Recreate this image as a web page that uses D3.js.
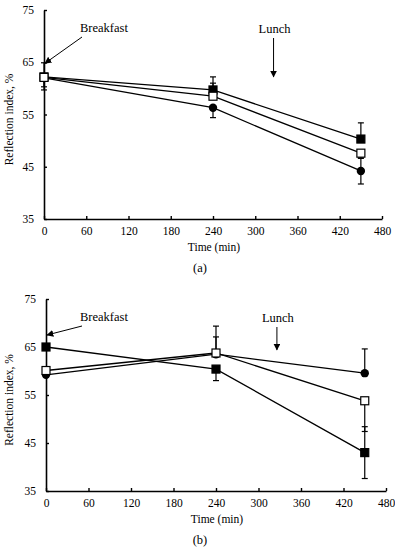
<!DOCTYPE html>
<html>
<head>
<meta charset="utf-8">
<script src="https://cdn.jsdelivr.net/npm/d3@7"></script>
<style>
  body { margin: 0; background: #fff; }
</style>
</head>
<body>
<svg id="chart" width="395" height="550"></svg>
<script>
// data
var times = [0, 240, 450];
var xTicks = [0, 60, 120, 180, 240, 300, 360, 420, 480];
var yTicks = [35, 45, 55, 65, 75];

// panel (a)
var aSquare = [62.2, 59.7, 50.3];
var aSquareUp = [2.7, 2.5, 3.1];
var aSquareDown = [0, 0, 0];
var aOpen = [62.1, 58.5, 47.6];
var aOpenUp = [0, 2.5, 0];
var aOpenDown = [1.8, 0, 1.0];
var aCircle = [62.0, 56.3, 44.2];
var aCircleUp = [0, 0, 2.5];
var aCircleDown = [2.3, 1.9, 2.5];

// panel (b)
var bSquare = [65.0, 60.4, 43.0];
var bSquareUp = [0, 0, 5.4];
var bSquareDown = [0, 2.4, 5.4];
var bOpen = [60.1, 63.75, 53.8];
var bOpenUp = [0, 5.6, 0];
var bOpenDown = [0, 0, 6.4];
var bCircle = [59.2, 63.5, 59.55];
var bCircleUp = [0, 3.6, 5.05];
var bCircleDown = [0, 0, 0];

var FONT = "'Liberation Serif', 'DejaVu Serif', serif";

var svg = d3.select("#chart");

var defs = svg.append("defs");
defs.append("marker")
	.attr("id", "head")
	.attr("viewBox", "0 0 10 10")
	.attr("refX", 9).attr("refY", 5)
	.attr("markerWidth", 7).attr("markerHeight", 7)
	.attr("markerUnits", "userSpaceOnUse")
	.attr("orient", "auto")
	.append("path")
	.attr("d", "M0,0L10,5L0,10Z")
	.attr("fill", "#000");

function addText(g, txt, size) {
	return g.append("text")
		.attr("font-family", FONT)
		.attr("font-size", size)
		.attr("fill", "#000")
		.text(txt);
}

function drawPanel(p) {
	var x = d3.scaleLinear().domain([0, 480]).range([p.x0, p.x1]);
	var y = d3.scaleLinear().domain([35, 75]).range([p.y0, p.y1]);
	var g = svg.append("g");

	var xAxis = g.append("g")
		.attr("transform", "translate(0," + p.y0 + ")")
		.call(d3.axisBottom(x).tickValues(xTicks).tickSizeInner(-3).tickSizeOuter(0).tickPadding(8));
	var yAxis = g.append("g")
		.attr("transform", "translate(" + p.x0 + ",0)")
		.call(d3.axisLeft(y).tickValues(yTicks).tickSizeInner(-3).tickSizeOuter(0).tickPadding(10));

	[xAxis, yAxis].forEach(function(a) {
		a.attr("font-family", FONT);
		a.select(".domain").attr("stroke", "#000").attr("stroke-width", 1.6);
		a.selectAll(".tick line").attr("stroke", "#000").attr("stroke-width", 1.4);
		a.selectAll(".tick text").attr("font-family", FONT).attr("font-size", 11.5).attr("fill", "#000");
	});

	addText(g, "Time (min)", 11.5)
		.attr("x", (p.x0 + p.x1) / 2 + 1)
		.attr("y", p.y0 + 32)
		.attr("text-anchor", "middle");

	addText(g, "Reflection index, %", 11.5)
		.attr("transform", "translate(13," + ((p.y0 + p.y1) / 2 + 5) + ") rotate(-90)")
		.attr("text-anchor", "middle");

	addText(g, p.label, 12.5)
		.attr("x", 200)
		.attr("y", p.y0 + 53)
		.attr("text-anchor", "middle");

	// annotations
	addText(g, "Breakfast", 12.5).attr("x", 80).attr("y", p.y1 + 22);
	g.append("line")
		.attr("x1", 82).attr("y1", p.y1 + 27)
		.attr("x2", x(0) + 1).attr("y2", y(p.bArrowY))
		.attr("stroke", "#000").attr("stroke-width", 1)
		.attr("marker-end", "url(#head)");
	addText(g, "Lunch", 12.5).attr("x", x(326) + 1).attr("y", p.y1 + 23).attr("text-anchor", "middle");
	g.append("line")
		.attr("x1", x(326)).attr("y1", p.y1 + 28)
		.attr("x2", x(326)).attr("y2", y(p.lArrowY))
		.attr("stroke", "#000").attr("stroke-width", 1)
		.attr("marker-end", "url(#head)");

	var line = d3.line()
		.x(function(d, i) { return x(times[i]); })
		.y(function(d) { return y(d); });

	p.series.forEach(function(s) {
		g.append("path")
			.attr("d", line(s.vals))
			.attr("fill", "none")
			.attr("stroke", "#000")
			.attr("stroke-width", 1.3);
	});

	// error bars
	p.series.forEach(function(s) {
		s.vals.forEach(function(v, i) {
			var cx = x(times[i]);
			[[s.up[i], 1], [s.down[i], -1]].forEach(function(e) {
				if (e[0] <= 0) return;
				var ey = y(v + e[0] * e[1]);
				g.append("line").attr("x1", cx).attr("x2", cx).attr("y1", y(v)).attr("y2", ey)
					.attr("stroke", "#000").attr("stroke-width", 1.2);
				g.append("line").attr("x1", cx - 3).attr("x2", cx + 3).attr("y1", ey).attr("y2", ey)
					.attr("stroke", "#000").attr("stroke-width", 1.2);
			});
		});
	});

	// markers
	p.series.forEach(function(s) {
		s.vals.forEach(function(v, i) {
			var cx = x(times[i]), cy = y(v);
			if (s.shape == "circle") {
				g.append("circle").attr("cx", cx).attr("cy", cy).attr("r", 4.2).attr("fill", "#000");
			} else {
				g.append("rect")
					.attr("x", cx - 4).attr("y", cy - 4)
					.attr("width", 8).attr("height", 8)
					.attr("fill", s.shape == "open" ? "#fff" : "#000")
					.attr("stroke", "#000").attr("stroke-width", 1.2);
			}
		});
	});
}

drawPanel({
	x0: 44, x1: 382, y0: 219, y1: 10, label: "(a)", bArrowY: 64.8, lArrowY: 62.2,
	series: [
		{shape: "circle", vals: aCircle, up: aCircleUp, down: aCircleDown},
		{shape: "filled", vals: aSquare, up: aSquareUp, down: aSquareDown},
		{shape: "open", vals: aOpen, up: aOpenUp, down: aOpenDown}
	]
});

drawPanel({
	x0: 46, x1: 386, y0: 491, y1: 299, label: "(b)", bArrowY: 67.5, lArrowY: 64.4,
	series: [
		{shape: "circle", vals: bCircle, up: bCircleUp, down: bCircleDown},
		{shape: "filled", vals: bSquare, up: bSquareUp, down: bSquareDown},
		{shape: "open", vals: bOpen, up: bOpenUp, down: bOpenDown}
	]
});
</script>
</body>
</html>
